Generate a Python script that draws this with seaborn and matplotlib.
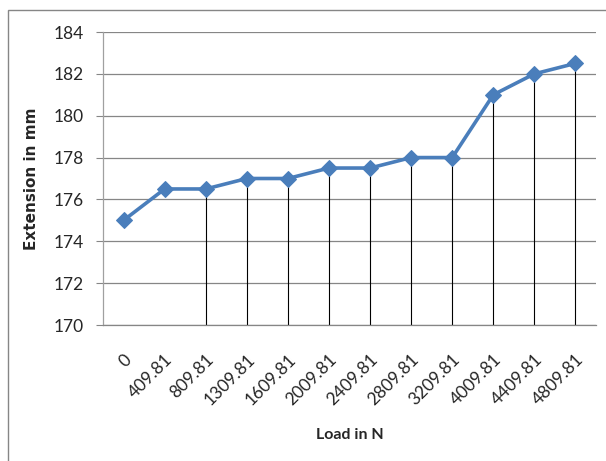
import numpy as np
import pandas as pd
import matplotlib
matplotlib.use('Agg')
import matplotlib.pyplot as plt
import seaborn as sns

## Data
loads       = ['0','409.81','809.81','1309.81','1609.81','2009.81','2409.81',
               '2809.81','3209.81','4009.81','4409.81','4809.81']
extension   = [175.0,176.5,176.5,177.0,177.0,177.5,177.5,178.0,178.0,181.0,182.0,182.5]
drop_from   = 2          # drop lines start at this category
yticks      = [170,172,174,176,178,180,182,184]

sns.set_style('white')
plt.rcParams['font.family'] = ['Lato', 'DejaVu Sans']

df = pd.DataFrame({'load': loads, 'ext': extension})

fig = plt.figure(figsize=(6.06,4.61), dpi=100)
ax  = fig.add_axes([103/606, 1-325/461, (596-103)/606, (325-32)/461])

## Drop lines (black) from axis to points
xs = np.arange(len(loads))
ax.vlines(xs[drop_from:], 170, np.array(extension)[drop_from:], color='black', lw=0.8, zorder=2)

sns.lineplot(data=df, x='load', y='ext', ax=ax, color='#4A7EBB', lw=2.6,
             marker='D', markersize=8.5, markeredgecolor='#4A7EBB', sort=False, zorder=3)

## Axes
ax.set_xlim(-0.5, len(loads)-0.5)
ax.set_ylim(170, 184)
ax.set_yticks(yticks)
ax.set_yticklabels([str(t) for t in yticks], fontsize=12.5)
ax.set_xticks(xs)
ax.set_xticklabels(loads, fontsize=12.5, rotation=45, ha='right', rotation_mode='anchor')
ax.tick_params(axis='x', length=0, pad=19)
ax.tick_params(axis='y', length=5, width=0.8, color='#868686', pad=9, left=True)
ax.grid(axis='y', color='#868686', lw=0.9)
ax.set_axisbelow(True)
for side in ['top','right']:
    ax.spines[side].set_visible(False)
ax.spines['left'].set_color('#a0a0a0')
ax.spines['bottom'].set_color('#868686')
ax.spines['left'].set_linewidth(0.9)
ax.spines['bottom'].set_linewidth(0.9)

ax.set_xlabel('Load in N', fontsize=11.5, fontweight='bold', labelpad=14)
ax.set_ylabel('Extension in mm', fontsize=11, fontweight='bold', labelpad=10,
              family=['DejaVu Sans'])

## Outer chart border
fig.patches.append(plt.Rectangle((8/606, -0.1), 1.2, 1.1-10/461, transform=fig.transFigure,
                                 fill=False, edgecolor='#868686', lw=1))

fig.savefig('out.png', dpi=100)
